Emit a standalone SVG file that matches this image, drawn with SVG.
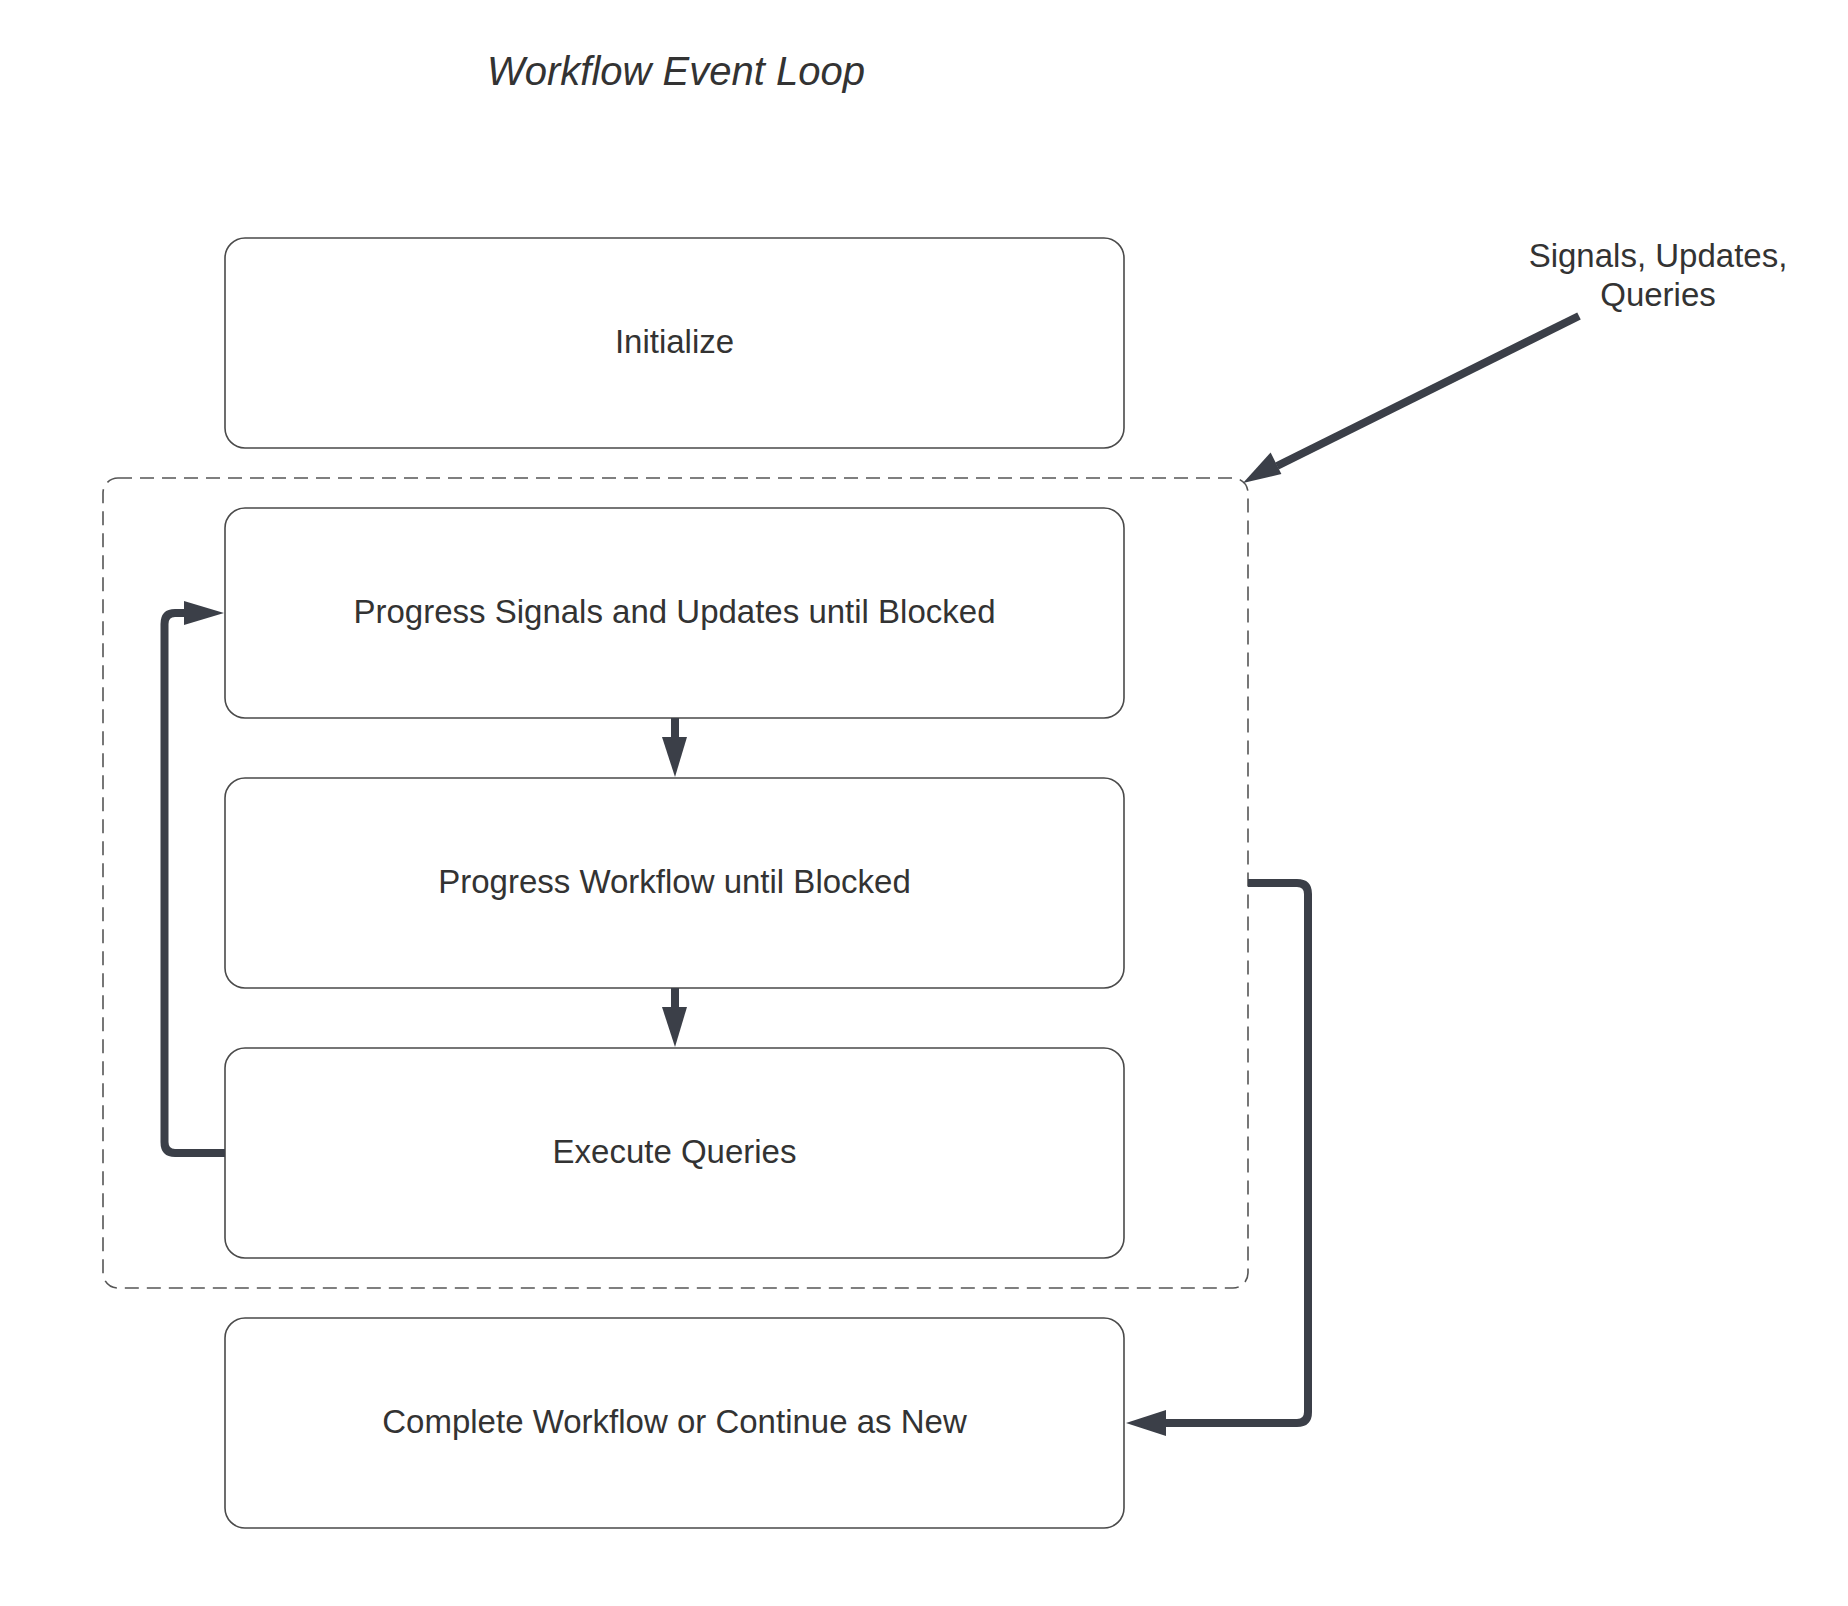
<svg xmlns="http://www.w3.org/2000/svg" width="1848" height="1606" viewBox="0 0 1848 1606">
<style>
.node rect{fill:#fff;stroke:#4a4a4a;stroke-width:1.6}
.lbl{font-family:"Liberation Sans",Arial,sans-serif;font-size:33px;fill:#333;text-anchor:middle}
.title{font-family:"Liberation Sans",Arial,sans-serif;font-size:40px;font-style:italic;fill:#333;text-anchor:middle}
.conn{fill:none;stroke:#3b3f48;stroke-width:8;stroke-linejoin:round}
.head{fill:#3b3f48}
</style>
<rect width="1848" height="1606" fill="#fff"/>
<text class="title" x="676" y="85">Workflow Event Loop</text>
<g id="loop-container">
<rect x="103" y="478" width="1145" height="810" rx="15" fill="none" stroke="#555" stroke-width="1.6" stroke-dasharray="14 8"/>
</g>
<g id="node-initialize" class="node">
<rect x="225" y="238" width="899" height="210" rx="20"/>
<text class="lbl" x="674.5" y="353">Initialize</text>
</g>
<g id="node-signals" class="node">
<rect x="225" y="508" width="899" height="210" rx="20"/>
<text class="lbl" x="674.5" y="623">Progress Signals and Updates until Blocked</text>
</g>
<g id="node-workflow" class="node">
<rect x="225" y="778" width="899" height="210" rx="20"/>
<text class="lbl" x="674.5" y="893">Progress Workflow until Blocked</text>
</g>
<g id="node-queries" class="node">
<rect x="225" y="1048" width="899" height="210" rx="20"/>
<text class="lbl" x="674.5" y="1163">Execute Queries</text>
</g>
<g id="node-complete" class="node">
<rect x="225" y="1318" width="899" height="210" rx="20"/>
<text class="lbl" x="674.5" y="1433">Complete Workflow or Continue as New</text>
</g>
<g id="node-external">
<text class="lbl" x="1658" y="267">Signals, Updates,</text>
<text class="lbl" x="1658" y="306">Queries</text>
</g>
<g id="connectors">
<path class="conn" d="M675 718 V740"/>
<polygon class="head" points="662,737 687,737 675,777"/>
<path class="conn" d="M675 988 V1010"/>
<polygon class="head" points="662,1007 687,1007 675,1047"/>
<path class="conn" d="M225 1153 H175 Q164.5 1153 164.5 1142 V624 Q164.5 613 175 613 H188"/>
<polygon class="head" points="184,601 184,625 224,613"/>
<path class="conn" d="M1248 883 H1297 Q1308 883 1308 894 V1412 Q1308 1423 1297 1423 H1162"/>
<polygon class="head" points="1166,1410 1166,1436 1126,1423"/>
<path class="conn" d="M1579 316 L1277 466"/>
<polygon class="head" points="1243,483 1270.6,452.6 1281.4,474.1"/>
</g>
</svg>
